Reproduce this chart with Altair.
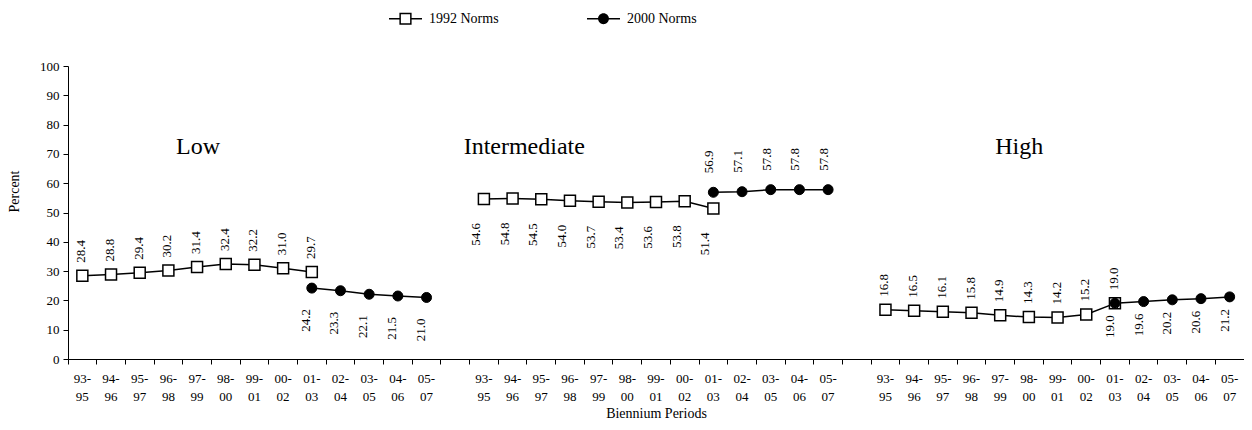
import altair as alt
import pandas as pd

FONT = "Liberation Serif"

groups = ["Low", "Intermediate", "High"]
periods = ["93-95", "94-96", "95-97", "96-98", "97-99", "98-00", "99-01",
           "00-02", "01-03", "02-04", "03-05", "04-06", "05-07"]
series_names = ["1992 Norms", "2000 Norms"]
periods_1992 = periods[:9]
periods_2000 = periods[8:]

low_1992 = [28.4, 28.8, 29.4, 30.2, 31.4, 32.4, 32.2, 31.0, 29.7]
low_2000 = [24.2, 23.3, 22.1, 21.5, 21.0]
int_1992 = [54.6, 54.8, 54.5, 54.0, 53.7, 53.4, 53.6, 53.8, 51.4]
int_2000 = [56.9, 57.1, 57.8, 57.8, 57.8]
high_1992 = [16.8, 16.5, 16.1, 15.8, 14.9, 14.3, 14.2, 15.2, 19.0]
high_2000 = [19.0, 19.6, 20.2, 20.6, 21.2]

# group title annotations: anchor period and level (percent)
title_period = ["97-99", "95-97", "97-99"]
title_level = [70, 70, 70]
title_shift = [1, -17, 19]  # style: horizontal nudge in px

values = {
    ("Low", "1992 Norms"): low_1992,
    ("Low", "2000 Norms"): low_2000,
    ("Intermediate", "1992 Norms"): int_1992,
    ("Intermediate", "2000 Norms"): int_2000,
    ("High", "1992 Norms"): high_1992,
    ("High", "2000 Norms"): high_2000,
}

rows = []
for s in series_names:
    for g in groups:
        ps = periods_1992 if s == "1992 Norms" else periods_2000
        for p, v in zip(ps, values[(g, s)]):
            rows.append({"group": g, "series": s, "period": p,
                         "key": f"{g}|{p}", "line": f"{g}-{s}", "value": v})
df = pd.DataFrame(rows)

domain = []
for i, g in enumerate(groups):
    domain += [f"{g}|{p}" for p in periods]
    if i < len(groups) - 1:
        domain.append(f"gap{i}")

XSCALE = alt.Scale(type="band", domain=domain, paddingInner=0, paddingOuter=0)

line1_expr = ("indexof(datum.value, '|') < 0 ? '' : "
              "substring(datum.value, indexof(datum.value, '|') + 1, indexof(datum.value, '|') + 4)")
line2_expr = ("indexof(datum.value, '|') < 0 ? '' : "
              "substring(datum.value, indexof(datum.value, '|') + 4)")

common_lab = dict(labelFont=FONT, labelFontSize=13, labelColor="black", labelAngle=0,
                  grid=False, labelOverlap=False, labelBound=False, orient="bottom")

# axis with ticks between categories and the axis line
axis_ticks = alt.Axis(title=None, labels=False, bandPosition=0, tickSize=5, orient="bottom",
                      domainColor="black", tickColor="black", grid=False)
# first line of the period labels
axis_line1 = alt.Axis(title=None, labelExpr=line1_expr, tickSize=5, tickOpacity=0,
                      domainOpacity=0, labelPadding=8, **common_lab)
# second line of the period labels and the axis title
axis_line2 = alt.Axis(title="Biennium Periods", labelExpr=line2_expr, tickSize=5,
                      tickOpacity=0, domainOpacity=0, labelPadding=26,
                      titleFont=FONT, titleFontSize=14, titleFontWeight="normal",
                      titleColor="black", titleY=54, titleBaseline="middle", **common_lab)


def xenc(axis):
    return alt.X("key:N", scale=XSCALE, axis=axis)


Y = alt.Y("value:Q", scale=alt.Scale(domain=[0, 100], nice=False),
          axis=alt.Axis(values=list(range(0, 101, 10)), title="Percent", titleX=-54, titleY=125,
                        titleAlign="center", titleBaseline="middle", titleAngle=270,
                        titleFont=FONT, titleFontSize=14, titleFontWeight="normal",
                        titleColor="black", tickSize=5, labelPadding=4,
                        labelFont=FONT, labelFontSize=13, labelColor="black",
                        domainColor="black", tickColor="black", grid=False))

base = alt.Chart(df)

lines = base.mark_line(color="black", strokeWidth=1.5).encode(
    x=xenc(axis_ticks), y=Y, detail="line:N")

squares = base.transform_filter("datum.series == '1992 Norms'").mark_point(
    shape="square", filled=True, fill="white", stroke="black", strokeWidth=1.5,
    size=121, opacity=1).encode(x=xenc(axis_line1), y=Y)
circles = base.transform_filter("datum.series == '2000 Norms'").mark_point(
    shape="circle", filled=True, fill="black", stroke="black", strokeWidth=1,
    size=100, opacity=1).encode(x=xenc(axis_line2), y=Y)

# (above?, distance from marker, sideways shift)
label_style = {
    ("Low", "1992 Norms"): (True, 13, -1),
    ("Low", "2000 Norms"): (False, 21, -6),
    ("Intermediate", "1992 Norms"): (False, 24, -8),
    ("Intermediate", "2000 Norms"): (True, 19, -4),
    ("High", "1992 Norms"): (True, 13, -1),
    ("High", "2000 Norms"): (False, 12, -5),
}

label_layers = []
for (g, s), (above, dist, side) in label_style.items():
    label_layers.append(
        base.transform_filter(f"datum.group == '{g}' && datum.series == '{s}'").mark_text(
            angle=270, align="left" if above else "right", baseline="middle",
            dx=dist if above else -dist, dy=side, font=FONT, fontSize=13, color="black"
        ).encode(x=xenc(None), y=Y, text=alt.Text("value:Q", format=".1f"))
    )

tdf = pd.DataFrame({"group": groups,
                    "key": [f"{g}|{p}" for g, p in zip(groups, title_period)],
                    "value": title_level})
title_layers = []
for g, shift in zip(groups, title_shift):
    title_layers.append(
        alt.Chart(tdf).transform_filter(f"datum.group == '{g}'").mark_text(
            font=FONT, fontSize=24, align="center", baseline="alphabetic",
            color="black", dx=shift).encode(x=xenc(None), y=Y, text="group:N")
    )

# legend symbols: line-marker-line glyphs, drawn as filled shapes
path_sq = ("M-1,-0.045H-0.37V0.045H-1Z M0.37,-0.045H1V0.045H0.37Z "
           "M-0.37,-0.37H0.37V0.37H-0.37Z M-0.28,-0.28V0.28H0.28V-0.28Z")
path_ci = ("M-1,-0.045H1V0.045H-1Z "
           "M0.33,0A0.33,0.33 0 1,1 -0.33,0A0.33,0.33 0 1,1 0.33,0Z")
leg = alt.Legend(orient="none", legendX=321, legendY=-64, direction="horizontal",
                 title=None, labelFont=FONT, labelFontSize=14, labelColor="black",
                 symbolSize=1089, symbolFillColor="black", symbolStrokeWidth=0,
                 symbolOpacity=1, columnPadding=88, labelOffset=7, padding=0)
legend_layer = base.transform_filter("false").mark_point(
    filled=True, fill="black", color="black", strokeWidth=0, size=1089, opacity=1).encode(
    x=xenc(None), y=Y,
    shape=alt.Shape("series:N", scale=alt.Scale(domain=series_names, range=[path_sq, path_ci]),
                    legend=leg),
)

chart = alt.layer(lines, squares, circles, legend_layer, *label_layers, *title_layers
                  ).resolve_axis(x="independent").properties(
    width=1176, height=293,
    padding={"left": 60, "top": 58, "right": 0, "bottom": 63},
    autosize=alt.AutoSizeParams(type="none"),
    background="white",
).configure_view(stroke=None)

chart.save("out.html", embed_options={"renderer": "svg", "actions": False})
